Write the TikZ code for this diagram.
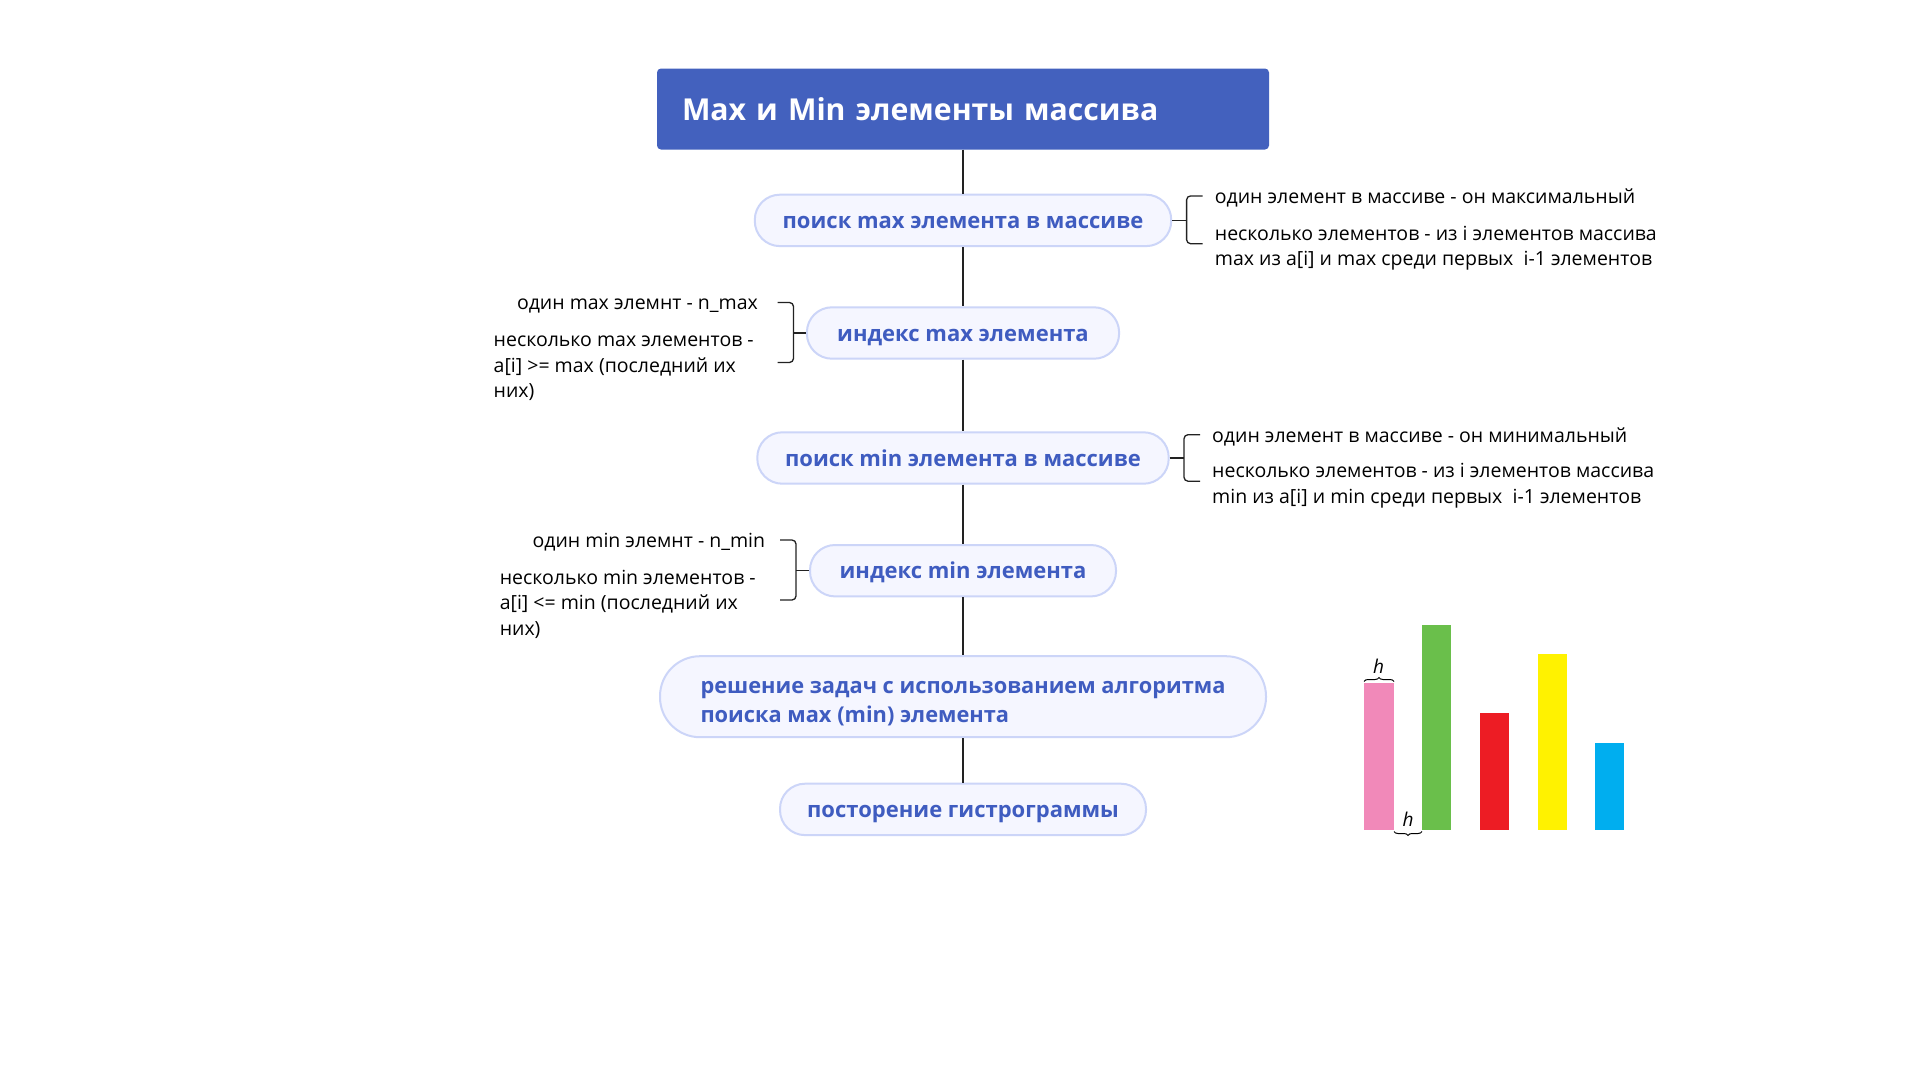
\documentclass[tikz,border=0pt]{standalone}
\usepackage{fontspec}
\setmainfont{Open Sans}
\usetikzlibrary{decorations.pathreplacing}
\definecolor{titleblue}{HTML}{4361BE}
\definecolor{pillfill}{HTML}{F5F6FF}
\definecolor{pillborder}{HTML}{CCD5F8}
\definecolor{pilltext}{HTML}{3F5CC0}
\definecolor{linecol}{HTML}{222222}
\definecolor{barpink}{HTML}{F189B9}
\definecolor{bargreen}{HTML}{6ABF4B}
\definecolor{barred}{HTML}{ED1C24}
\definecolor{baryellow}{HTML}{FFF200}
\definecolor{barblue}{HTML}{00AEEF}
\tikzset{
  pill/.style={draw=pillborder, line width=2pt, fill=pillfill, text=pilltext,
    rounded corners=25pt, minimum height=51.4pt, inner sep=0pt,
    text height=16.5pt, text depth=0pt,
    font=\fontsize{22}{29.7}\selectfont\bfseries},
  conn/.style={draw=linecol, line width=1.8pt},
  brk/.style={draw=linecol, line width=1.3pt, rounded corners=4pt},
  note/.style={text=black, inner sep=0pt, font=\fontsize{19.5}{25.7}\selectfont, align=left},
}
\begin{document}
\begin{tikzpicture}[x=1pt,y=-1pt]
\useasboundingbox (0,0) rectangle (1920,1080);
\fill[white] (0,0) rectangle (1920,1080);

% title
\node[fill=titleblue, rounded corners=4pt, minimum width=612pt, minimum height=81pt,
  inner xsep=25pt, inner ysep=0pt, text width=562pt, align=left, text=white,
  font=\fontsize{30.2}{36}\selectfont\bfseries] (title) at (963,109) {Max и Min элементы массива};

% main nodes
\node[pill, minimum width=416.4pt] (n1) at (963,220.4) {поиск max элемента в массиве};
\node[pill, minimum width=312.2pt] (n2) at (963,333) {индекс max элемента};
\node[pill, minimum width=411.4pt] (n3) at (963,458) {поиск min элемента в массиве};
\node[pill, minimum width=306pt] (n4) at (963,570.7) {индекс min элемента};
\node[draw=pillborder, line width=2pt, fill=pillfill, text=pilltext,
  font=\fontsize{21.8}{29.7}\selectfont\bfseries,
  minimum width=606pt, minimum height=81pt, rounded corners=40pt,
  inner xsep=40pt, inner ysep=0pt, align=left] (n5) at (963,696.7) {\rule{0pt}{26pt}решение задач с использованием алгоритма\\поиска мах (min) элемента};
\node[pill, minimum width=366pt] (n6) at (963,809.4) {посторение гистрограммы};

% spine
\draw[conn] (title.south) -- (n1.north);
\draw[conn] (n1.south) -- (n2.north);
\draw[conn] (n2.south) -- (n3.north);
\draw[conn] (n3.south) -- (n4.north);
\draw[conn] (n4.south) -- (n5.north);
\draw[conn] (n5.south) -- (n6.north);

% right notes n1
\coordinate (b1) at (1186.6,220.4);
\draw[brk] (n1.east) -- (b1);
\draw[brk] (1202.5,195.9) -- (1186.6,195.9) -- (1186.6,243.7) -- (1202.5,243.7);
\node[note, anchor=base west] (t1a) at (1214.7,203) {один элемент в массиве - он максимальный};
\node[note, anchor=north west] (t1b) at (1214.7,222) {\strut несколько элементов - из i элементов массива\\max из a[i] и max среди первых\ \ i-1 элементов};

% left notes n2
\coordinate (b2) at (793.5,333);
\draw[brk] (n2.west) -- (b2);
\draw[brk] (777.6,302.5) -- (793.5,302.5) -- (793.5,362.5) -- (777.6,362.5);
\node[note, anchor=base east] (t2a) at (758,309.7) {один max элемнт - n\_max};
\node[note, anchor=north west] (t2b) at (493.5,328.4) {\strut несколько max элементов -\\a[i] >= max (последний их\\них)};

% right notes n3
\coordinate (b3) at (1184,458);
\draw[brk] (n3.east) -- (b3);
\draw[brk] (1200,434.7) -- (1184,434.7) -- (1184,481.2) -- (1200,481.2);
\node[note, anchor=base west] (t3a) at (1212,442) {один элемент в массиве - он минимальный};
\node[note, anchor=north west] (t3b) at (1212,459.4) {\strut несколько элементов - из i элементов массива\\min из a[i] и min среди первых\ \ i-1 элементов};

% left notes n4
\coordinate (b4) at (796,570.7);
\draw[brk] (n4.west) -- (b4);
\draw[brk] (780,540) -- (796,540) -- (796,600) -- (780,600);
\node[note, anchor=base east] (t4a) at (765.3,547.2) {один min элемнт - n\_min};
\node[note, anchor=north west] (t4b) at (499.6,566) {\strut несколько min элементов -\\a[i] <= min (последний их\\них)};

% histogram
\fill[barpink] (1364,683.3) rectangle (1394,830.2);
\fill[bargreen] (1422,625) rectangle (1451,830.2);
\fill[barred] (1480,713) rectangle (1509,830.2);
\fill[baryellow] (1538,654) rectangle (1567,830.2);
\fill[barblue] (1595,743) rectangle (1624,830.2);
\draw[black, line width=1pt, decorate, decoration={brace, amplitude=4pt}] (1364,681.5) -- (1394,681.5);
\draw[black, line width=1pt, decorate, decoration={brace, amplitude=4pt}] (1422,831.5) -- (1394,831.5);
\node[inner sep=0pt, font=\fontsize{19}{22}\selectfont\itshape] (h1) at (1378.5,666) {h};
\node[inner sep=0pt, font=\fontsize{19}{22}\selectfont\itshape] (h2) at (1408,819) {h};
\end{tikzpicture}
\end{document}
